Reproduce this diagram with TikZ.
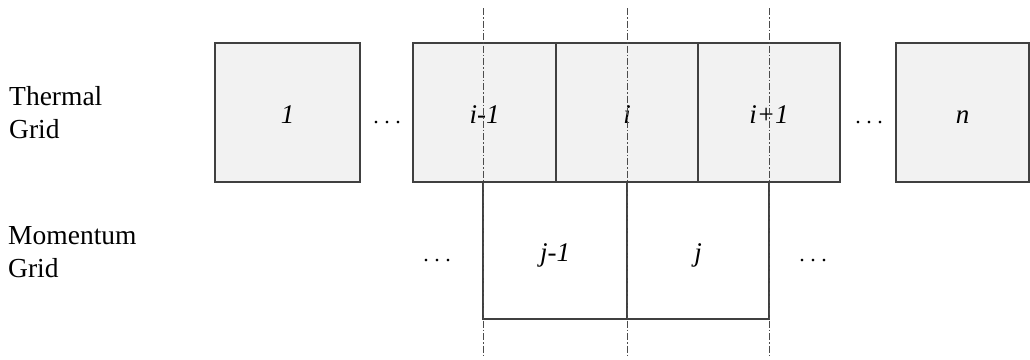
\documentclass[tikz,border=0pt]{standalone}
\usepackage{fontspec}
\setmainfont{Liberation Serif}
\newcommand{\spreaddots}{.\hspace{5.5pt}.\hspace{5.5pt}.}
\begin{document}
\begin{tikzpicture}[x=1pt,y=-1pt,
  cellbase/.style={draw=black!75,line width=1.2pt,inner sep=0pt,
    text height=21pt,text depth=0pt,font=\fontsize{27}{29}\selectfont\itshape},
  cell/.style={cellbase,fill=black!5,minimum height=139pt},
  mcell/.style={cellbase,fill=white,minimum height=137pt},
  dots/.style={anchor=base,inner sep=0pt,font=\fontsize{22}{24}\selectfont},
  rowlabel/.style={align=left,anchor=west,font=\fontsize{27.5}{33}\selectfont,inner sep=0pt},
  axis/.style={draw=black!70,line width=0.8pt,dash pattern=on 7pt off 2pt on 1.5pt off 2pt}]
\useasboundingbox (0,0) rectangle (1030,359);
% row labels
\node[rowlabel] (tlab) at (9,113) {Thermal\\Grid};
\node[rowlabel] (mlab) at (8,252) {Momentum\\Grid};
% thermal grid cells
\node[cell,minimum width=145pt] (c1) at (287.5,112.5) {1};
\node[dots] (d1) at (387,123) {\spreaddots};
\node[cell,minimum width=143pt] (cim) at (484.5,112.5) {i-1};
\node[cell,minimum width=142pt] (ci) at (627,112.5) {i};
\node[cell,minimum width=142pt] (cip) at (769,112.5) {i+1};
\node[dots] (d2) at (869,123) {\spreaddots};
\node[cell,minimum width=133pt] (cn) at (962.5,112.5) {n};
% momentum grid cells
\node[dots] (d3) at (437,261) {\spreaddots};
\node[mcell,minimum width=144pt] (mjm) at (555,250.5) {j-1};
\node[mcell,minimum width=142pt] (mj) at (698,250.5) {j};
\node[dots] (d4) at (813,261) {\spreaddots};
% cell interfaces
\coordinate (a1) at (483,8);   \coordinate (b1) at (483,355);
\coordinate (a2) at (627,8);   \coordinate (b2) at (627,355);
\coordinate (a3) at (769,8);   \coordinate (b3) at (769,355);
\draw[axis] (a1) -- (b1);
\draw[axis] (a2) -- (b2);
\draw[axis] (a3) -- (b3);
\end{tikzpicture}
\end{document}
